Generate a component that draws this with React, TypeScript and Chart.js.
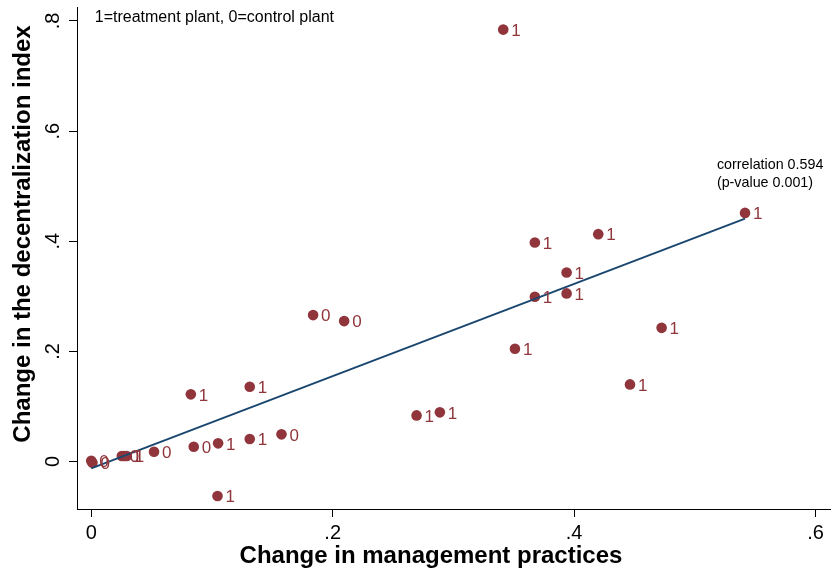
import React, { useEffect, useRef } from "react";
import { Chart, registerables } from "chart.js";

Chart.register(...registerables);

// ---- Data ----
const mgmtChange: number[] = [
  0, 0.001, 0.0253, 0.0273, 0.0294, 0.052, 0.0849, 0.1051, 0.1313, 0.1576,
  0.1046, 0.0825, 0.1313, 0.1838, 0.2095, 0.2695, 0.2888, 0.3413, 0.351,
  0.3675, 0.3675, 0.3938, 0.3938, 0.42, 0.4463, 0.4725, 0.5416,
];
const decentChange: number[] = [
  0.0015, -0.002, 0.01, 0.01, 0.01, 0.0178, 0.0269, 0.033, 0.0408, 0.0494,
  -0.0626, 0.122, 0.1358, 0.2659, 0.255, 0.0838, 0.0893, 0.7844, 0.2047,
  0.3978, 0.2991, 0.3434, 0.3053, 0.4129, 0.1401, 0.2428, 0.4515,
];
const treatment: string[] = [
  "0", "0", "0", "1", "1", "0", "0", "1", "1", "0",
  "1", "1", "1", "0", "0", "1", "1", "1", "1",
  "1", "1", "1", "1", "1", "1", "1", "1",
];
const fitX: number[] = [0, 0.5416];
const fitY: number[] = [-0.0125, 0.441];

const xTicks: number[] = [0, 0.2, 0.4, 0.6];
const yTicks: number[] = [0, 0.2, 0.4, 0.6, 0.8];

const noteText = "1=treatment plant, 0=control plant";
const notePos = { x: 0.0029, y: 0.8067 };
const corrLines: string[] = ["correlation 0.594", "(p-value 0.001)"];
const corrPos = { x: 0.5183, y: [0.538, 0.505] };
const xTitle = "Change in management practices";
const yTitle = "Change in the decentralization index";

const MAROON = "#90353B";
const NAVY = "#1A476F";
const FAMILY = '"Liberation Sans", Arial, Helvetica, sans-serif';

const fmt = (v: number): string => {
  if (Math.abs(v) < 1e-9) return "0";
  return String(Number(v.toFixed(1))).replace(/^0/, "").replace(/^-0/, "-");
};

const overlay = {
  id: "overlay",
  afterDatasetsDraw(chart: any) {
    const ctx = chart.ctx;
    const meta = chart.getDatasetMeta(1);
    ctx.save();
    ctx.fillStyle = MAROON;
    ctx.font = `17px ${FAMILY}`;
    ctx.textAlign = "left";
    ctx.textBaseline = "middle";
    meta.data.forEach((el: any, i: number) => {
      ctx.fillText(treatment[i], el.x + 8, el.y + 1.5);
    });
    ctx.restore();
  },
  afterDraw(chart: any) {
    const ctx = chart.ctx;
    const xs = chart.scales.x;
    const ys = chart.scales.y;
    ctx.save();
    // y tick labels (rotated, Stata style)
    ctx.fillStyle = "#000";
    ctx.font = `20px ${FAMILY}`;
    ctx.textAlign = "center";
    ctx.textBaseline = "middle";
    yTicks.forEach((v) => {
      const py = ys.getPixelForValue(v);
      ctx.save();
      ctx.translate(53.5, py);
      ctx.rotate(-Math.PI / 2);
      ctx.fillText(fmt(v), 0, 0);
      ctx.restore();
    });
    // annotations
    ctx.textAlign = "left";
    ctx.font = `16px ${FAMILY}`;
    ctx.fillText(noteText, xs.getPixelForValue(notePos.x), ys.getPixelForValue(notePos.y));
    ctx.font = `14.3px ${FAMILY}`;
    corrLines.forEach((t, i) => {
      ctx.fillText(t, xs.getPixelForValue(corrPos.x), ys.getPixelForValue(corrPos.y[i]));
    });
    // axis titles
    ctx.font = `bold 24px ${FAMILY}`;
    ctx.textAlign = "center";
    ctx.fillText(xTitle, 431, 556.5);
    ctx.save();
    ctx.translate(23, 234);
    ctx.rotate(-Math.PI / 2);
    ctx.fillText(yTitle, 0, 0);
    ctx.restore();
    ctx.restore();
  },
};

export default function App() {
  const canvasRef = useRef<HTMLCanvasElement | null>(null);

  useEffect(() => {
    const canvas = canvasRef.current;
    if (!canvas) return;
    const chart = new Chart(canvas, {
      type: "scatter",
      data: {
        datasets: [
          {
            type: "line",
            data: fitX.map((x, i) => ({ x, y: fitY[i] })),
            borderColor: NAVY,
            borderWidth: 2,
            pointRadius: 0,
            fill: false,
            order: 0,
          } as any,
          {
            type: "scatter",
            data: mgmtChange.map((x, i) => ({ x, y: decentChange[i] })),
            backgroundColor: MAROON,
            borderWidth: 0,
            pointRadius: 5.3,
            order: 1,
          } as any,
        ],
      },
      options: {
        animation: false,
        responsive: false,
        devicePixelRatio: 1,
        layout: { padding: { left: 0, top: 7, right: 7, bottom: 0 } },
        plugins: { legend: { display: false }, tooltip: { enabled: false } },
        scales: {
          x: {
            type: "linear",
            min: -0.0118,
            max: 0.612,
            afterBuildTicks: (s: any) => {
              s.ticks = xTicks.map((v) => ({ value: v }));
            },
            afterFit: (s: any) => {
              s.height = 65;
            },
            ticks: {
              color: "#000",
              font: { family: FAMILY, size: 20 },
              padding: 4,
              maxRotation: 0,
              autoSkip: false,
              callback: (v: any) => fmt(Number(v)),
            },
            grid: {
              display: true,
              drawOnChartArea: false,
              drawTicks: true,
              tickLength: 8,
              color: "#000",
              lineWidth: 1,
            },
            border: { display: true, color: "#000", width: 1 },
          },
          y: {
            type: "linear",
            min: -0.0862,
            max: 0.8254,
            afterBuildTicks: (s: any) => {
              s.ticks = yTicks.map((v) => ({ value: v }));
            },
            afterFit: (s: any) => {
              s.width = 77;
            },
            ticks: { display: false },
            grid: {
              display: true,
              drawOnChartArea: false,
              drawTicks: true,
              tickLength: 8,
              color: "#000",
              lineWidth: 1,
            },
            border: { display: true, color: "#000", width: 1 },
          },
        },
      } as any,
      plugins: [overlay],
    });
    return () => chart.destroy();
  }, []);

  return (
    <div style={{ position: "fixed", left: 0, top: 0, width: 837, height: 574, background: "#fff" }}>
      <canvas ref={canvasRef} width={837} height={574} style={{ width: 837, height: 574, display: "block" }} />
    </div>
  );
}
